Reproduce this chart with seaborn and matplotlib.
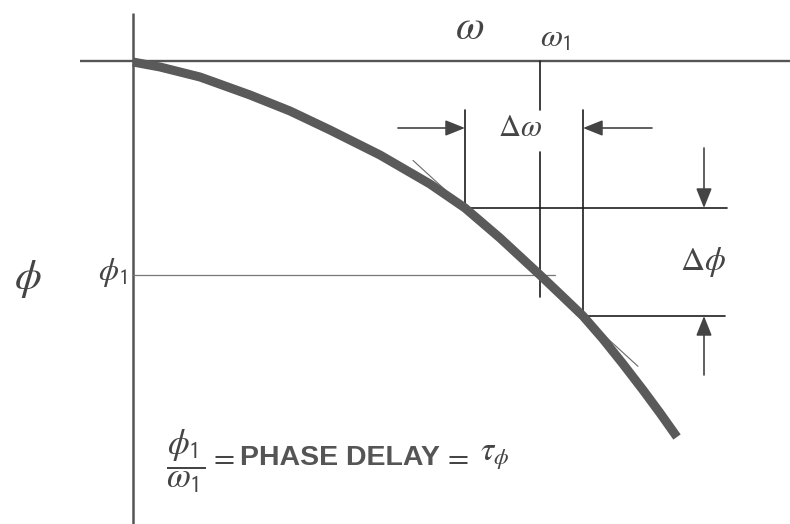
import matplotlib
matplotlib.use("Agg")
import matplotlib.pyplot as plt
import seaborn as sns
import numpy as np

sns.set_theme(style="white")
plt.rcParams["font.family"] = ["Liberation Sans", "DejaVu Sans"]
plt.rcParams["mathtext.fontset"] = "stix"

# Phase response: frequency (omega) vs phase (phi), phase falls as frequency rises
omega = [0.00, 0.27, 0.67, 1.17, 1.57, 1.97, 2.47, 2.97, 3.32, 3.67,
         4.07, 4.27, 4.50, 4.70, 4.90, 5.10, 5.27, 5.44]
phase = [-0.01, -0.06, -0.16, -0.34, -0.50, -0.69, -0.94, -1.23, -1.47, -1.77,
         -2.14, -2.33, -2.55, -2.78, -3.03, -3.29, -3.52, -3.76]

# Indices of the operating point and the two ends of the delta interval
i_lo, i_1, i_hi = 8, 10, 12
w_lo, w1, w_hi = omega[i_lo], omega[i_1], omega[i_hi]
p_lo, p1, p_hi = phase[i_lo], phase[i_1], phase[i_hi]

CURVE = "#5a5a5a"
INK = "#1e1e1e"
AXIS = "#555555"
TEXT = "#454545"

fig = plt.figure(figsize=(7.9, 5.24), dpi=100)
ax = fig.add_axes([0, 0, 1, 1])
ax.set_xlim(-1.33, 6.57)
ax.set_ylim(-4.63, 0.61)
ax.axis("off")

# Axes of the diagram
ax.plot([-0.53, 6.57], [0, 0], color=AXIS, lw=1.7, solid_capstyle="butt", zorder=2)
ax.plot([0, 0], [0.48, -4.63], color=AXIS, lw=1.8, solid_capstyle="butt", zorder=2)

# Secant through the two interval ends, extended a little on both sides
slope = (p_hi - p_lo) / (w_hi - w_lo)
sx = np.array([w_lo - 0.52, w_hi + 0.55])
ax.plot(sx, p_lo + slope * (sx - w_lo), color="#6a6a6a", lw=0.8, zorder=3)

# Phase curve
sns.lineplot(x=omega, y=phase, ax=ax, color=CURVE, lw=6.5, sort=False,
             zorder=4, estimator=None)
ax.lines[-1].set_solid_capstyle("butt")
ax.lines[-1].set_solid_joinstyle("round")

# Reference line at phi_1
ax.plot([0, w1 + 0.15], [p1, p1], color="#777777", lw=0.9, zorder=3)

# Vertical guides
gap_top, gap_bot = -0.49, -0.91
ax.plot([w1, w1], [0, gap_top], color=INK, lw=1.2, zorder=3)
ax.plot([w1, w1], [gap_bot, p1 - 0.22], color=INK, lw=1.2, zorder=3)
ax.plot([w_lo, w_lo], [gap_top, p_lo], color=INK, lw=1.2, zorder=3)
ax.plot([w_hi, w_hi], [gap_top, p_hi], color=INK, lw=1.2, zorder=3)

# Horizontal guides for the phase interval
ax.plot([w_lo, 5.94], [p_lo, p_lo], color=INK, lw=1.2, zorder=3)
ax.plot([w_hi, 5.92], [p_hi, p_hi], color=INK, lw=1.2, zorder=3)

arrow = dict(arrowstyle="-|>,head_length=0.6,head_width=0.24",
             mutation_scale=20, color="#444444", lw=1.2,
             shrinkA=0, shrinkB=0)
y_arr = -0.67
ax.annotate("", xy=(w_lo, y_arr), xytext=(2.65, y_arr), arrowprops=arrow, zorder=5)
ax.annotate("", xy=(w_hi, y_arr), xytext=(5.19, y_arr), arrowprops=arrow, zorder=5)
x_arr = 5.71
ax.annotate("", xy=(x_arr, p_lo), xytext=(x_arr, -0.87), arrowprops=arrow, zorder=5)
ax.annotate("", xy=(x_arr, p_hi), xytext=(x_arr, -3.14), arrowprops=arrow, zorder=5)

# Labels
ax.text(3.37, 0.33, r"$\omega$", fontsize=30, color=TEXT, ha="center", va="center")
ax.text(4.22, 0.22, r"$\omega_{\mathsf{1}}$", fontsize=23, color=TEXT,
        ha="center", va="center")
ax.text((w_lo + w_hi) / 2 - 0.04, y_arr, r"$\Delta\omega$", fontsize=22,
        color=TEXT, ha="center", va="center")
ax.text(x_arr - 0.01, (p_lo + p_hi) / 2, r"$\Delta\phi$", fontsize=24,
        color=TEXT, ha="center", va="center")
ax.text(-1.05, p1 - 0.04, r"$\phi$", fontsize=31, color=TEXT,
        ha="center", va="center")
ax.text(-0.06, p1 + 0.03, r"$\phi_{\mathsf{1}}$", fontsize=23, color=TEXT,
        ha="right", va="center")

# Definition of phase delay
y_eq = -3.97
ax.text(0.53, y_eq - 0.03, r"$\dfrac{\phi_{\mathsf{1}}}{\omega_{\mathsf{1}}}$",
        fontsize=25, color=TEXT, ha="center", va="center")
ax.text(0.76, y_eq, r"$=$", fontsize=22, color=TEXT, ha="left", va="center")
ax.text(1.07, y_eq, "PHASE DELAY", fontsize=20.5, fontweight="bold",
        color="#555555", ha="left", va="center")
ax.text(3.10, y_eq, r"$=$", fontsize=22, color=TEXT, ha="left", va="center")
ax.text(3.47, y_eq + 0.02, r"$\tau_{\phi}$", fontsize=24, color=TEXT,
        ha="left", va="center")

fig.savefig("out.png", dpi=100)
